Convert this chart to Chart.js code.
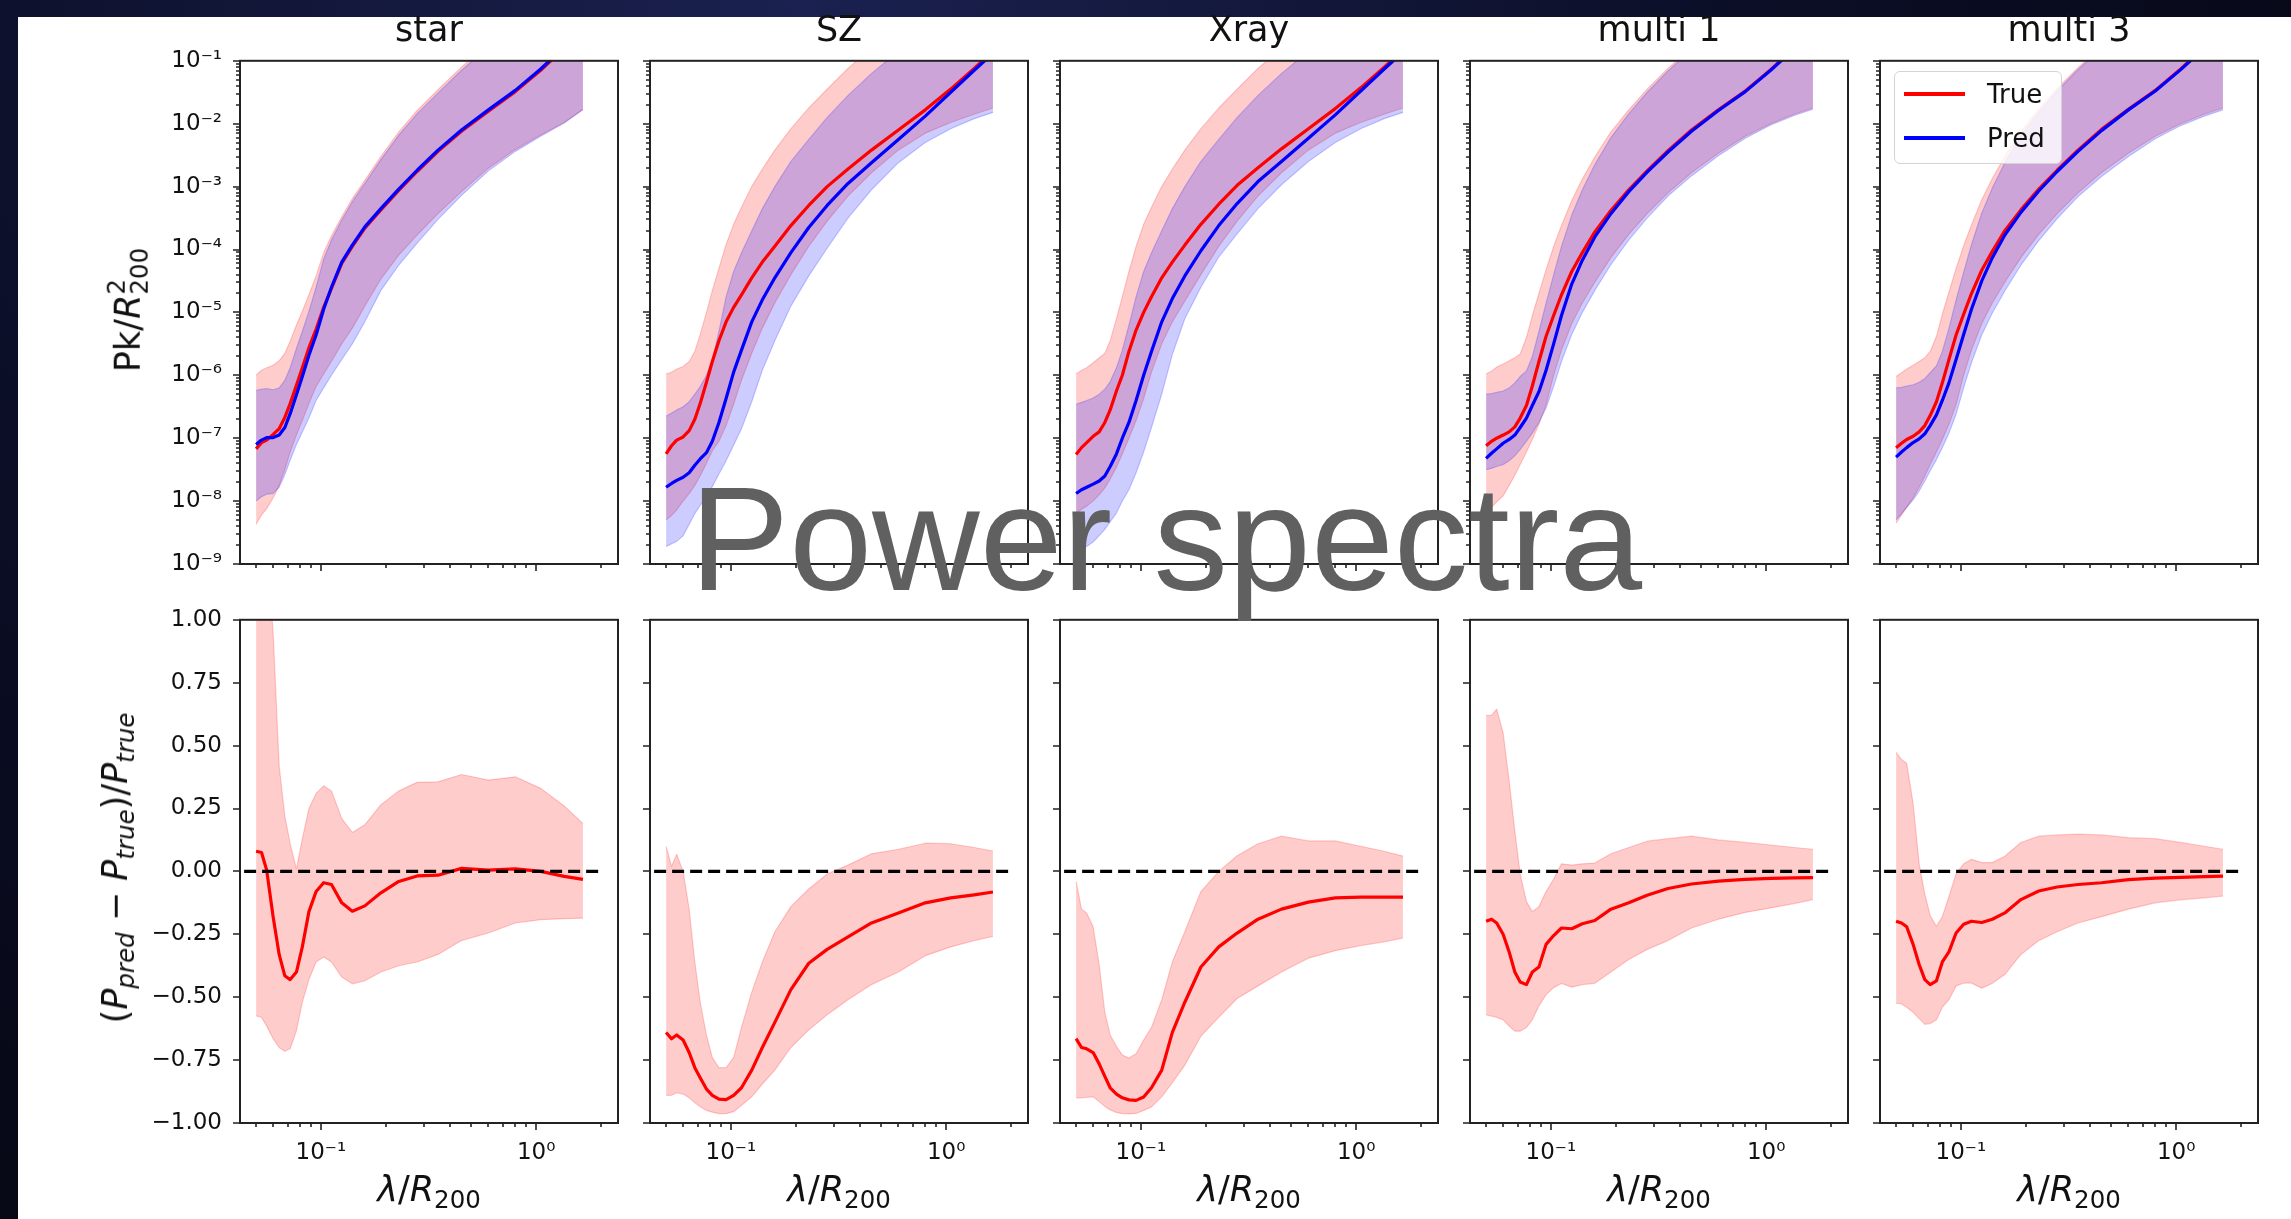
<!DOCTYPE html>
<html>
<head>
<meta charset="utf-8">
<title>Power spectra</title>
<script src="https://cdn.jsdelivr.net/npm/chart.js@4.4.1/dist/chart.umd.min.js"></script>
<style>
  html, body { margin: 0; padding: 0; }
  body {
    width: 2291px; height: 1219px; position: relative; overflow: hidden;
    background: radial-gradient(ellipse at 35% 0%, #1b2150 0%, #0b0e26 45%, #04050c 100%);
    font-family: "DejaVu Sans", sans-serif;
  }
  #sheet { position: absolute; left: 18px; top: 17px; right: 0; bottom: 0; background: #fff; }
  canvas { position: absolute; }
  .title, .xlab { position: absolute; transform: translateX(-50%); font-size: 35px; line-height: 35px; color: #111; white-space: nowrap; }
  .title { top: 12px; }
  .xlab { top: 1172px; }
  .ylab { position: absolute; transform: translate(-50%, -50%) rotate(-90deg); font-size: 35px; line-height: 35px; color: #111; white-space: nowrap; }
  .sub { font-size: 0.7em; position: relative; top: 0.28em; }
  .ss { display: inline-block; font-size: 0.7em; line-height: 0.95; vertical-align: -0.32em; text-align: left; }
  .ss span { display: block; }
  #legend {
    position: absolute; left: 1894px; top: 71px; width: 168px; height: 93px; box-sizing: border-box;
    border: 1.5px solid #d4d4d4; border-radius: 6px; background: rgba(255,255,255,0.8);
    font-size: 26px; color: #111;
  }
  #legend .row { position: absolute; left: 0; height: 44px; display: flex; align-items: center; }
  #legend .sw { display: inline-block; width: 61px; height: 3.5px; margin-left: 9px; margin-right: 22px; }
  #big {
    position: absolute; left: 1166px; top: 464px; transform: translateX(-50%);
    font-family: "Liberation Sans", Arial, sans-serif; font-size: 149px; line-height: 149px;
    color: #606060; white-space: nowrap;
  }
</style>
</head>
<body>
<div id="sheet"></div>
<script>
// wavelength grid (lambda / R200)
const lam = [0.050, 0.053, 0.056, 0.060, 0.064, 0.068, 0.072, 0.077, 0.082, 0.088, 0.095, 0.103, 0.112,
             0.125, 0.14, 0.16, 0.19, 0.23, 0.28, 0.35, 0.45, 0.6, 0.8, 1.05, 1.35, 1.65];

const panelTitles = ['star', 'SZ', 'Xray', 'multi 1', 'multi 3'];
const seriesNames = ['True', 'Pred'];

// top row: log10(Pk / R200^2), median and band edges
const starTrue   = [-7.17, -7.07, -7.03, -6.94, -6.85, -6.67, -6.45, -6.16, -5.88, -5.56, -5.27, -4.92, -4.62, -4.22, -3.95, -3.66, -3.37, -3.06, -2.76, -2.44, -2.12, -1.80, -1.49, -1.15, -0.80, -0.52];
const starPred   = [-7.10, -7.03, -6.99, -6.99, -6.95, -6.83, -6.61, -6.31, -6.02, -5.68, -5.36, -4.95, -4.60, -4.20, -3.93, -3.64, -3.35, -3.04, -2.74, -2.42, -2.10, -1.78, -1.47, -1.13, -0.78, -0.50];
const starTrueHi = [-6.00, -5.92, -5.88, -5.84, -5.77, -5.65, -5.46, -5.20, -4.98, -4.72, -4.42, -4.05, -3.78, -3.48, -3.19, -2.90, -2.52, -2.13, -1.79, -1.46, -1.10, -0.73, -0.37, -0.05, 0.25, 0.50];
const starTrueLo = [-8.37, -8.22, -8.12, -7.95, -7.75, -7.50, -7.22, -6.95, -6.72, -6.45, -6.18, -5.98, -5.78, -5.50, -5.25, -4.90, -4.47, -4.09, -3.77, -3.43, -3.08, -2.71, -2.41, -2.18, -1.98, -1.77];
const starPredHi = [-6.24, -6.22, -6.21, -6.23, -6.20, -6.08, -5.88, -5.57, -5.30, -4.98, -4.60, -4.15, -3.85, -3.53, -3.24, -2.95, -2.57, -2.18, -1.84, -1.51, -1.15, -0.78, -0.42, -0.10, 0.20, 0.45];
const starPredLo = [-8.00, -7.93, -7.89, -7.88, -7.78, -7.58, -7.35, -7.10, -6.90, -6.68, -6.40, -6.20, -6.00, -5.75, -5.50, -5.15, -4.65, -4.25, -3.90, -3.52, -3.14, -2.75, -2.44, -2.20, -1.99, -1.78];

const szTrue   = [-7.25, -7.12, -7.03, -6.98, -6.88, -6.70, -6.45, -6.11, -5.78, -5.45, -5.15, -4.92, -4.72, -4.45, -4.20, -3.95, -3.62, -3.30, -3.00, -2.72, -2.42, -2.10, -1.78, -1.45, -1.12, -0.85];
const szPred   = [-7.78, -7.72, -7.67, -7.62, -7.55, -7.43, -7.33, -7.23, -7.05, -6.75, -6.37, -5.95, -5.60, -5.15, -4.80, -4.45, -4.05, -3.65, -3.30, -2.95, -2.62, -2.25, -1.88, -1.50, -1.15, -0.88];
const szTrueHi = [-5.98, -5.95, -5.90, -5.86, -5.78, -5.62, -5.35, -5.00, -4.65, -4.30, -3.92, -3.60, -3.33, -3.00, -2.72, -2.42, -2.08, -1.75, -1.45, -1.12, -0.80, -0.45, -0.10, 0.20, 0.45, 0.65];
const szTrueLo = [-8.30, -8.23, -8.14, -8.00, -7.88, -7.75, -7.60, -7.40, -7.20, -7.05, -6.80, -6.46, -6.08, -5.65, -5.25, -4.85, -4.40, -3.95, -3.55, -3.15, -2.78, -2.42, -2.15, -1.98, -1.85, -1.75];
const szPredHi = [-6.65, -6.60, -6.55, -6.50, -6.42, -6.30, -6.18, -6.00, -5.75, -5.30, -4.75, -4.35, -4.05, -3.70, -3.35, -3.00, -2.60, -2.25, -1.90, -1.55, -1.20, -0.85, -0.50, -0.20, 0.10, 0.30];
const szPredLo = [-8.72, -8.68, -8.64, -8.55, -8.37, -8.20, -8.07, -7.92, -7.77, -7.57, -7.36, -7.11, -6.85, -6.42, -5.92, -5.45, -4.90, -4.42, -3.98, -3.50, -3.05, -2.62, -2.30, -2.08, -1.92, -1.82];

const xrayTrue   = [-7.26, -7.15, -7.07, -6.97, -6.90, -6.75, -6.55, -6.25, -6.00, -5.62, -5.28, -5.00, -4.75, -4.45, -4.20, -3.93, -3.60, -3.28, -2.98, -2.70, -2.40, -2.08, -1.76, -1.43, -1.10, -0.84];
const xrayPred   = [-7.88, -7.82, -7.78, -7.73, -7.68, -7.60, -7.45, -7.25, -7.00, -6.75, -6.40, -6.00, -5.62, -5.15, -4.78, -4.42, -4.02, -3.62, -3.27, -2.92, -2.60, -2.23, -1.86, -1.48, -1.13, -0.86];
const xrayTrueHi = [-5.98, -5.92, -5.88, -5.80, -5.72, -5.65, -5.45, -5.10, -4.75, -4.35, -3.95, -3.60, -3.33, -3.00, -2.72, -2.42, -2.08, -1.75, -1.45, -1.12, -0.80, -0.45, -0.10, 0.20, 0.45, 0.65];
const xrayTrueLo = [-8.20, -8.13, -8.08, -8.00, -7.90, -7.79, -7.65, -7.46, -7.25, -7.00, -6.72, -6.37, -5.95, -5.50, -5.15, -4.82, -4.40, -3.95, -3.55, -3.15, -2.78, -2.42, -2.15, -1.98, -1.85, -1.75];
const xrayPredHi = [-6.46, -6.43, -6.40, -6.36, -6.30, -6.22, -6.10, -5.88, -5.60, -5.20, -4.75, -4.35, -4.05, -3.70, -3.35, -3.00, -2.60, -2.25, -1.90, -1.55, -1.20, -0.85, -0.50, -0.20, 0.10, 0.30];
const xrayPredLo = [-8.82, -8.77, -8.72, -8.65, -8.55, -8.45, -8.33, -8.19, -8.00, -7.82, -7.55, -7.22, -6.83, -6.30, -5.67, -5.10, -4.60, -4.12, -3.75, -3.35, -2.97, -2.60, -2.30, -2.08, -1.92, -1.82];

const m1True   = [-7.12, -7.05, -7.00, -6.95, -6.90, -6.82, -6.68, -6.48, -6.17, -5.78, -5.38, -5.05, -4.72, -4.35, -4.05, -3.72, -3.38, -3.05, -2.75, -2.43, -2.10, -1.78, -1.48, -1.14, -0.80, -0.52];
const m1Pred   = [-7.32, -7.24, -7.17, -7.08, -7.02, -6.95, -6.83, -6.68, -6.48, -6.26, -5.92, -5.50, -5.05, -4.55, -4.17, -3.80, -3.43, -3.08, -2.77, -2.45, -2.12, -1.79, -1.49, -1.15, -0.81, -0.53];
const m1TrueHi = [-5.98, -5.93, -5.87, -5.82, -5.77, -5.72, -5.66, -5.40, -5.05, -4.70, -4.32, -3.95, -3.62, -3.22, -2.88, -2.53, -2.13, -1.78, -1.45, -1.12, -0.78, -0.42, -0.08, 0.22, 0.48, 0.68];
const m1TrueLo = [-8.20, -8.10, -8.01, -7.92, -7.75, -7.59, -7.42, -7.22, -7.02, -6.78, -6.47, -6.00, -5.60, -5.18, -4.85, -4.52, -4.13, -3.76, -3.43, -3.10, -2.78, -2.47, -2.20, -2.00, -1.85, -1.75];
const m1PredHi = [-6.30, -6.29, -6.27, -6.25, -6.20, -6.12, -6.02, -5.93, -5.70, -5.30, -4.85, -4.40, -3.95, -3.45, -3.05, -2.65, -2.22, -1.84, -1.50, -1.16, -0.82, -0.46, -0.12, 0.18, 0.44, 0.64];
const m1PredLo = [-7.50, -7.48, -7.45, -7.42, -7.36, -7.28, -7.18, -7.05, -6.92, -6.75, -6.52, -6.18, -5.78, -5.35, -5.00, -4.65, -4.24, -3.85, -3.50, -3.15, -2.83, -2.51, -2.23, -2.02, -1.87, -1.77];

const m3True   = [-7.15, -7.08, -7.02, -6.97, -6.90, -6.80, -6.64, -6.42, -6.12, -5.75, -5.36, -5.03, -4.70, -4.33, -4.03, -3.70, -3.37, -3.04, -2.74, -2.42, -2.09, -1.77, -1.47, -1.13, -0.79, -0.51];
const m3Pred   = [-7.30, -7.22, -7.15, -7.07, -7.01, -6.93, -6.80, -6.63, -6.40, -6.12, -5.75, -5.35, -4.95, -4.50, -4.13, -3.77, -3.41, -3.07, -2.76, -2.44, -2.11, -1.78, -1.48, -1.14, -0.80, -0.52];
const m3TrueHi = [-6.02, -5.96, -5.90, -5.84, -5.78, -5.72, -5.62, -5.38, -5.03, -4.68, -4.30, -3.94, -3.61, -3.21, -2.87, -2.52, -2.12, -1.77, -1.44, -1.11, -0.77, -0.41, -0.07, 0.23, 0.49, 0.69];
const m3TrueLo = [-8.35, -8.22, -8.10, -7.95, -7.78, -7.60, -7.42, -7.22, -7.02, -6.78, -6.47, -6.00, -5.60, -5.18, -4.85, -4.52, -4.13, -3.76, -3.43, -3.10, -2.78, -2.47, -2.20, -2.00, -1.85, -1.75];
const m3PredHi = [-6.20, -6.19, -6.17, -6.15, -6.11, -6.05, -5.96, -5.85, -5.62, -5.25, -4.80, -4.36, -3.92, -3.42, -3.02, -2.62, -2.19, -1.82, -1.48, -1.14, -0.80, -0.44, -0.10, 0.20, 0.46, 0.66];
const m3PredLo = [-8.30, -8.20, -8.10, -7.98, -7.84, -7.68, -7.52, -7.34, -7.15, -6.92, -6.62, -6.20, -5.80, -5.36, -5.01, -4.66, -4.25, -3.86, -3.51, -3.16, -2.84, -2.52, -2.24, -2.03, -1.88, -1.78];

// bottom row: (P_pred - P_true) / P_true, median and band edges
const starRatio   = [0.08, 0.075, 0.005, -0.18, -0.33, -0.415, -0.43, -0.40, -0.30, -0.16, -0.08, -0.045, -0.052, -0.125, -0.158, -0.137, -0.085, -0.04, -0.018, -0.015, 0.012, 0.005, 0.01, 0.0, -0.02, -0.032];
const starRatioHi = [1.8, 1.6, 1.3, 0.95, 0.42, 0.22, 0.11, 0.01, 0.13, 0.25, 0.31, 0.34, 0.32, 0.21, 0.155, 0.185, 0.265, 0.32, 0.354, 0.356, 0.385, 0.363, 0.376, 0.33, 0.26, 0.19];
const starRatioLo = [-0.574, -0.58, -0.615, -0.665, -0.70, -0.715, -0.705, -0.633, -0.52, -0.43, -0.36, -0.34, -0.36, -0.42, -0.447, -0.435, -0.40, -0.375, -0.36, -0.33, -0.275, -0.245, -0.205, -0.192, -0.188, -0.186];

const szRatio   = [-0.64, -0.665, -0.65, -0.67, -0.72, -0.78, -0.82, -0.865, -0.89, -0.905, -0.907, -0.89, -0.86, -0.79, -0.70, -0.60, -0.47, -0.365, -0.31, -0.26, -0.205, -0.165, -0.125, -0.105, -0.093, -0.082];
const szRatioHi = [0.10, 0.02, 0.068, 0.0, -0.15, -0.36, -0.52, -0.65, -0.74, -0.78, -0.78, -0.74, -0.62, -0.48, -0.36, -0.24, -0.14, -0.07, -0.01, 0.025, 0.07, 0.088, 0.112, 0.11, 0.095, 0.081];
const szRatioLo = [-0.89, -0.89, -0.88, -0.885, -0.90, -0.92, -0.935, -0.95, -0.957, -0.963, -0.963, -0.955, -0.93, -0.896, -0.845, -0.79, -0.70, -0.63, -0.57, -0.51, -0.45, -0.40, -0.335, -0.30, -0.275, -0.258];

const xrayRatio   = [-0.665, -0.70, -0.705, -0.72, -0.765, -0.815, -0.86, -0.885, -0.90, -0.908, -0.91, -0.897, -0.86, -0.79, -0.64, -0.52, -0.38, -0.30, -0.245, -0.19, -0.15, -0.122, -0.105, -0.102, -0.102, -0.102];
const xrayRatioHi = [-0.04, -0.15, -0.165, -0.22, -0.37, -0.56, -0.65, -0.695, -0.73, -0.742, -0.725, -0.67, -0.62, -0.51, -0.36, -0.24, -0.08, 0.0, 0.062, 0.11, 0.14, 0.121, 0.121, 0.10, 0.08, 0.061];
const xrayRatioLo = [-0.90, -0.90, -0.898, -0.896, -0.915, -0.934, -0.948, -0.958, -0.963, -0.964, -0.962, -0.95, -0.936, -0.896, -0.84, -0.77, -0.655, -0.58, -0.505, -0.455, -0.40, -0.345, -0.315, -0.295, -0.28, -0.265];

const m1Ratio   = [-0.198, -0.19, -0.205, -0.25, -0.32, -0.40, -0.44, -0.45, -0.40, -0.38, -0.29, -0.255, -0.225, -0.228, -0.208, -0.195, -0.15, -0.125, -0.095, -0.068, -0.05, -0.039, -0.032, -0.028, -0.026, -0.025];
const m1RatioHi = [0.62, 0.62, 0.645, 0.55, 0.36, 0.16, -0.01, -0.12, -0.16, -0.14, -0.08, -0.03, 0.03, 0.025, 0.03, 0.033, 0.07, 0.095, 0.12, 0.13, 0.14, 0.125, 0.115, 0.105, 0.095, 0.088];
const m1RatioLo = [-0.57, -0.575, -0.58, -0.59, -0.615, -0.635, -0.635, -0.62, -0.59, -0.535, -0.49, -0.462, -0.445, -0.46, -0.45, -0.445, -0.40, -0.35, -0.31, -0.275, -0.225, -0.19, -0.163, -0.145, -0.128, -0.112];

const m3Ratio   = [-0.198, -0.205, -0.22, -0.29, -0.37, -0.43, -0.45, -0.435, -0.36, -0.32, -0.245, -0.21, -0.198, -0.203, -0.19, -0.165, -0.112, -0.078, -0.062, -0.052, -0.045, -0.033, -0.027, -0.024, -0.021, -0.019];
const m3RatioHi = [0.473, 0.445, 0.43, 0.27, 0.03, -0.09, -0.175, -0.218, -0.18, -0.10, -0.01, 0.03, 0.048, 0.035, 0.035, 0.06, 0.115, 0.14, 0.145, 0.148, 0.145, 0.134, 0.13, 0.115, 0.10, 0.088];
const m3RatioLo = [-0.524, -0.527, -0.54, -0.56, -0.585, -0.608, -0.605, -0.59, -0.54, -0.51, -0.455, -0.444, -0.444, -0.464, -0.445, -0.41, -0.33, -0.275, -0.24, -0.205, -0.18, -0.15, -0.125, -0.113, -0.105, -0.098];

// zero reference line in the lower panels
const zeroX = [0.044, 2.0];
const zeroY = [0, 0];

// ticks
const xMajor = [0.1, 1];
const xMajorLabels = ['10⁻¹', '10⁰'];
const xMinor = [0.05, 0.06, 0.07, 0.08, 0.09, 0.2, 0.3, 0.4, 0.5, 0.6, 0.7, 0.8, 0.9, 2];
const yTopMajor = [1e-9, 1e-8, 1e-7, 1e-6, 1e-5, 1e-4, 1e-3, 1e-2, 1e-1];
const yTopLabels = ['10⁻⁹', '10⁻⁸', '10⁻⁷', '10⁻⁶', '10⁻⁵', '10⁻⁴', '10⁻³', '10⁻²', '10⁻¹'];
const yBotTicks = [-1, -0.75, -0.5, -0.25, 0, 0.25, 0.5, 0.75, 1];
const yBotLabels = ['−1.00', '−0.75', '−0.50', '−0.25', '0.00', '0.25', '0.50', '0.75', '1.00'];

const topSets = [
  [starTrue, starPred, starTrueHi, starTrueLo, starPredHi, starPredLo],
  [szTrue, szPred, szTrueHi, szTrueLo, szPredHi, szPredLo],
  [xrayTrue, xrayPred, xrayTrueHi, xrayTrueLo, xrayPredHi, xrayPredLo],
  [m1True, m1Pred, m1TrueHi, m1TrueLo, m1PredHi, m1PredLo],
  [m3True, m3Pred, m3TrueHi, m3TrueLo, m3PredHi, m3PredLo]
];
const botSets = [
  [starRatio, starRatioHi, starRatioLo],
  [szRatio, szRatioHi, szRatioLo],
  [xrayRatio, xrayRatioHi, xrayRatioLo],
  [m1Ratio, m1RatioHi, m1RatioLo],
  [m3Ratio, m3RatioHi, m3RatioLo]
];

// layout (px)
const colLeft = [240, 650, 1060, 1470, 1880];
const rowTop = [56, 615];
const PW = 378, PH = 508;
const PAD_T = 20, PAD_R = 16, PAD_B = 60;
const XMIN = 0.0421, XMAX = 2.4;
const LW = 3.2;

const tickFont = { family: 'DejaVu Sans', size: 23 };
const ink = '#111';

const yTopMinor = [];
yTopMajor.slice(0, -1).forEach(d => { for (let m = 2; m <= 9; m++) yTopMinor.push(m * d); });

const frameAndTicks = {
  id: 'frameAndTicks',
  afterDraw(chart) {
    const { ctx, chartArea: a, scales } = chart;
    ctx.save();
    ctx.strokeStyle = '#222';
    ctx.lineWidth = 1.6;
    ctx.beginPath();
    scales.x.ticks.forEach(t => {
      const px = Math.round(scales.x.getPixelForValue(t.value));
      ctx.moveTo(px, a.bottom);
      ctx.lineTo(px, a.bottom + (t.major ? 7 : 4));
    });
    scales.y.ticks.forEach(t => {
      const py = Math.round(scales.y.getPixelForValue(t.value));
      ctx.moveTo(a.left, py);
      ctx.lineTo(a.left - (t.major ? 7 : 4), py);
    });
    ctx.stroke();
    ctx.lineWidth = 2;
    ctx.strokeRect(a.left, a.top, a.right - a.left, a.bottom - a.top);
    ctx.restore();
  }
};

function logPts(arr) { return lam.map((x, i) => ({ x, y: Math.pow(10, arr[i]) })); }
function linPts(arr) { return lam.map((x, i) => ({ x, y: arr[i] })); }

function line(data, color, width, extra) {
  return Object.assign({ data, borderColor: color, borderWidth: width, pointRadius: 0, fill: false,
                         tension: 0, borderJoinStyle: 'round', borderCapStyle: 'butt' }, extra || {});
}

function xScale(labels) {
  return {
    type: 'logarithmic', min: XMIN, max: XMAX, bounds: 'data',
    grid: { display: false, drawTicks: true, tickLength: 7 },
    border: { display: false },
    afterBuildTicks: s => {
      s.ticks = xMinor.concat(xMajor).sort((a, b) => a - b)
        .map(v => ({ value: v, major: xMajor.includes(v) }));
    },
    afterFit: s => { s.height = PAD_B; },
    ticks: {
      autoSkip: false, maxRotation: 0, padding: 9, font: tickFont, color: ink,
      callback: v => labels && xMajor.includes(v) ? xMajorLabels[xMajor.indexOf(v)] : ''
    }
  };
}

function makeCanvas(col, row) {
  const padL = col === 0 ? 110 : 16;
  const w = PW + padL + PAD_R, h = PH + PAD_T + PAD_B;
  const c = document.createElement('canvas');
  c.width = w; c.height = h;
  c.style.left = (colLeft[col] - padL) + 'px';
  c.style.top = (rowTop[row] - PAD_T) + 'px';
  c.style.width = w + 'px';
  c.style.height = h + 'px';
  document.body.appendChild(c);
  return { c, padL };
}

function baseOptions() {
  return {
    responsive: false, animation: false, devicePixelRatio: 1, events: [],
    layout: { padding: { left: 0, top: PAD_T, right: PAD_R, bottom: 0 } },
    plugins: { legend: { display: false }, tooltip: { enabled: false }, title: { display: false } }
  };
}

// top row: power spectra
topSets.forEach((s, col) => {
  const [tr, pr, trHi, trLo, prHi, prLo] = s;
  const { c, padL } = makeCanvas(col, 0);
  const opts = baseOptions();
  opts.scales = {
    x: xScale(false),
    y: {
      type: 'logarithmic', min: 1e-9, max: 1e-1, bounds: 'data',
      grid: { display: false, drawTicks: true, tickLength: 7 },
      border: { display: false },
      afterBuildTicks: sc => {
        sc.ticks = yTopMinor.concat(yTopMajor).sort((a, b) => a - b)
          .map(v => ({ value: v, major: yTopMajor.includes(v) }));
      },
      afterFit: sc => { sc.width = padL; },
      ticks: {
        autoSkip: false, padding: 11, font: tickFont, color: ink,
        callback: v => col === 0 && yTopMajor.includes(v) ? yTopLabels[yTopMajor.indexOf(v)] : ''
      }
    }
  };
  new Chart(c, {
    type: 'line',
    data: {
      datasets: [
        line(logPts(pr), 'blue', LW, { label: seriesNames[1] }),
        line(logPts(tr), 'red', LW, { label: seriesNames[0] }),
        line(logPts(prHi), 'rgba(0,0,255,0.2)', 1.2, { fill: '+1', backgroundColor: 'rgba(0,0,255,0.2)' }),
        line(logPts(prLo), 'rgba(0,0,255,0.2)', 1.2),
        line(logPts(trHi), 'rgba(255,0,0,0.2)', 1.2, { fill: '+1', backgroundColor: 'rgba(255,0,0,0.2)' }),
        line(logPts(trLo), 'rgba(255,0,0,0.2)', 1.2)
      ]
    },
    options: opts,
    plugins: [frameAndTicks]
  });
});

// bottom row: relative difference
botSets.forEach((s, col) => {
  const [r, rHi, rLo] = s;
  const { c, padL } = makeCanvas(col, 1);
  const opts = baseOptions();
  opts.scales = {
    x: xScale(true),
    y: {
      type: 'linear', min: -1, max: 1, bounds: 'data',
      grid: { display: false, drawTicks: true, tickLength: 7 },
      border: { display: false },
      afterBuildTicks: sc => { sc.ticks = yBotTicks.map(v => ({ value: v, major: true })); },
      afterFit: sc => { sc.width = padL; },
      ticks: {
        autoSkip: false, padding: 11, font: tickFont, color: ink,
        callback: v => col === 0 ? yBotLabels[yBotTicks.indexOf(v)] : ''
      }
    }
  };
  new Chart(c, {
    type: 'line',
    data: {
      datasets: [
        line(zeroX.map((x, i) => ({ x, y: zeroY[i] })), '#000', LW, { borderDash: [12, 6] }),
        line(linPts(r), 'red', LW, { label: seriesNames[0] }),
        line(linPts(rHi), 'rgba(255,0,0,0.2)', 1.2, { fill: '+1', backgroundColor: 'rgba(255,0,0,0.2)' }),
        line(linPts(rLo), 'rgba(255,0,0,0.2)', 1.2)
      ]
    },
    options: opts,
    plugins: [frameAndTicks]
  });
});

// titles and axis labels
function addDiv(cls, html, style) {
  const d = document.createElement('div');
  d.className = cls;
  d.innerHTML = html;
  Object.assign(d.style, style || {});
  document.body.appendChild(d);
  return d;
}
panelTitles.forEach((t, col) => {
  addDiv('title', t, { left: (colLeft[col] + PW / 2) + 'px' });
  addDiv('xlab', '<i>λ</i>/<i>R</i><span class="sub">200</span>', { left: (colLeft[col] + PW / 2) + 'px' });
});
addDiv('ylab', 'Pk/<i>R</i><span class="ss"><span>2</span><span>200</span></span>', { left: '128px', top: '310px' });
addDiv('ylab', '(<i>P</i><span class="sub"><i>pred</i></span> − <i>P</i><span class="sub"><i>true</i></span>)/<i>P</i><span class="sub"><i>true</i></span>',
       { left: '117px', top: '868px' });

// legend (multi 3 upper panel)
const lg = addDiv('', '', {});
lg.id = 'legend';
seriesNames.forEach((name, i) => {
  const row = document.createElement('div');
  row.className = 'row';
  row.style.top = (i * 44) + 'px';
  row.innerHTML = '<span class="sw" style="background:' + (i === 0 ? 'red' : 'blue') + '"></span><span>' + name + '</span>';
  lg.appendChild(row);
});

// overlay caption
const big = addDiv('', 'Power spectra', {});
big.id = 'big';
</script>
</body>
</html>
